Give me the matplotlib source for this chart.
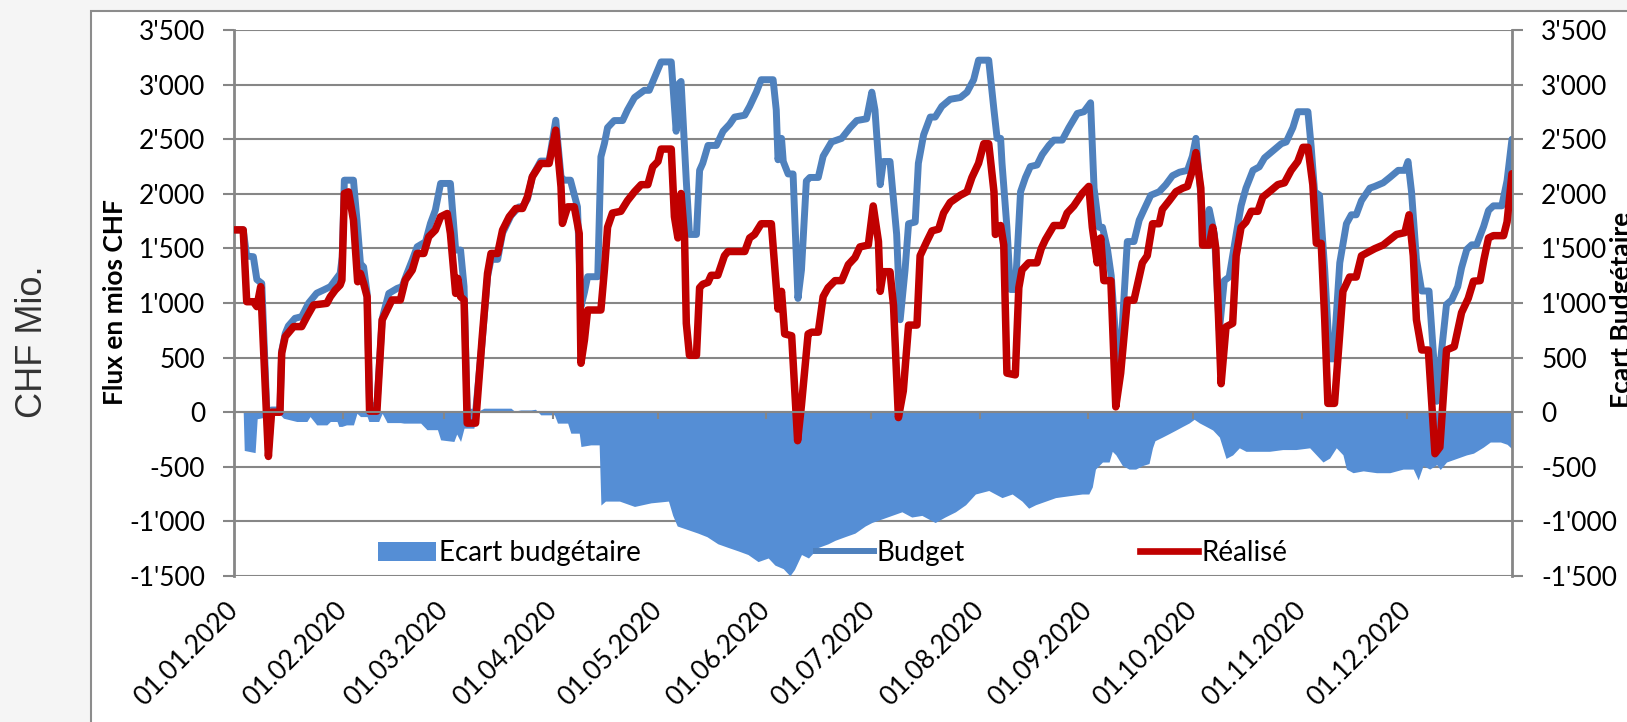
import numpy as np
import pandas as pd
import matplotlib
matplotlib.use("Agg")
import matplotlib.pyplot as plt
import matplotlib.dates as mdates
from matplotlib.patches import Patch, Rectangle
from matplotlib.lines import Line2D
from matplotlib.ticker import FuncFormatter

# values: day offset from 01.01.2020 and value in mios CHF
budget_day = [0, 2.5, 3.5, 5.4, 6.4, 7.8, 9.7, 10.6, 13, 13.5, 14.5, 15.4, 17.3, 19.2, 21.2, 23.5,
              25.5, 27.4, 28.8, 30.2, 30.8, 31.4, 34, 35, 36, 36.9, 37.9, 38.6, 40.7, 42.2, 42.6,
              44.1, 46.5, 47.9, 49.3, 50.8, 52.2, 54.6, 56, 57.4, 58.9, 61.7, 63.2, 64.6, 65.6,
              66.5, 68.9, 70.8, 72.3, 73.3, 75.2, 76.6, 79, 81.3, 82.3, 83.7, 85.1, 87.5, 89.9,
              91.8, 93.3, 94.2, 96, 98, 99, 100, 100.9, 103.8, 104.7, 105.7, 106.6, 108.5, 110.9,
              112.3, 114.3, 117.1, 118.5, 120, 121.9, 124.8, 126.2, 127.1, 127.6, 129.1, 130, 132,
              132.9, 133.8, 135.3, 137.7, 139.6, 141.5, 142.9, 145.8, 147.2, 149.1, 150.5, 153.9,
              154.8, 155.3, 156.3, 156.8, 158.2, 159.6, 161, 162, 163.4, 164.4, 166.8, 168.2,
              170.6, 173.5, 175.9, 177.8, 180.6, 182.1, 183, 184.5, 185.4, 187.3, 189.2, 190.2,
              191.6, 192.6, 194.5, 195.4, 196.9, 198.8, 200.2, 202.1, 204.5, 207.4, 209.3, 211.2,
              212.6, 215.5, 217, 217.9, 218.9, 219.3, 220.7, 221.7, 223.1, 224.6, 226, 227.4,
              229.3, 230.8, 232.7, 234.1, 236.5, 238.4, 240.8, 242.7, 244.6, 245.6, 247, 248,
              249.4, 250.5, 252.3, 253.5, 255.1, 257, 258.5, 259.9, 261.8, 264.2, 266.1, 268, 270,
              272.3, 273.7, 274.7, 276.1, 277.1, 278.5, 280, 281.4, 282.8, 284.2, 286.2, 287.6,
              289, 291, 292.8, 294.3, 296.7, 299.1, 300.5, 302.4, 303.8, 306.7, 307.6, 308.6, 310,
              311.5, 312.9, 314, 315.8, 317.7, 319.1, 320.5, 322, 324.4, 325.8, 328.2, 330.1,
              332.5, 334.4, 335.3, 336.3, 337.7, 339.2, 341.3, 343.5, 344.9, 346.3, 347.8, 349.5,
              350.6, 352.1, 353.5, 354.9, 356.9, 358.3, 359.7, 362.1, 363.6, 365]
budget_val = [1670, 1670, 1430, 1424, 1215, 1180, -350, 20, 20, 560, 720, 790, 860, 875, 1000, 1090,
              1120, 1150, 1210, 1270, 1420, 2125, 2125, 1760, 1360, 1330, 1090, 60, 60, 850, 906,
              1088, 1134, 1150, 1271, 1393, 1515, 1561, 1729, 1851, 2095, 2095, 1485, 1485, 1150,
              0, 0, 660, 1240, 1400, 1400, 1640, 1800, 1880, 1880, 1950, 2160, 2300, 2300,
              2674, 2156, 2125, 2125, 1881, 967, 1100, 1241, 1241, 2339, 2461, 2606, 2671, 2671,
              2768, 2882, 2948, 2948, 3062, 3208, 3208, 2573, 3013, 3029, 2117, 1628, 1628,
              2215, 2280, 2443, 2443, 2573, 2638, 2703, 2720, 2801, 2931, 3045, 3045,
              2768, 2312, 2508, 2296, 2182, 2182, 1042, 1303, 2117, 2150, 2150, 2345,
              2475, 2508, 2606, 2671, 2687, 2931, 2768, 2084, 2296, 2296, 1628, 847,
              1303, 1726, 1742, 2280, 2540, 2703, 2703, 2801, 2866, 2882, 2931, 3045,
              3224, 3224, 2768, 2508, 2508, 2280, 1694, 1124, 1124, 2019, 2150, 2250,
              2264, 2360, 2443, 2492, 2492, 2606, 2736, 2752, 2834, 2052, 1694, 1694,
              1498, 1250, 440, 700, 1563, 1563, 1759, 1857, 1987, 2019, 2084, 2166, 2198,
              2215, 2345, 2508, 1987, 1531, 1857, 1628, 749, 1205, 1238, 1628, 1889,
              2052, 2215, 2247, 2329, 2394, 2459, 2475, 2606, 2752, 2752, 2443, 2019, 1987,
              1303, 489, 489, 1368, 1726, 1808, 1808, 1938, 2052, 2068, 2101, 2150,
              2215, 2215, 2296, 2019, 1400, 1110, 1110, 100, 567, 987, 1029, 1150,
              1323, 1491, 1533, 1533, 1701, 1848, 1890, 1890, 2121, 2500]

realise_day = [0, 2.5, 3.5, 5.4, 6.4, 7.5, 9.7, 10.6, 13, 13.5, 14.5, 16.9, 19.2, 20.7, 22.6, 26.4,
               27.4, 28.8, 30.2, 30.7, 31.4, 32.6, 34, 35.2, 36, 36.9, 37.9, 38.6, 40.7, 42.2, 43.6,
               45, 47.4, 48.8, 50.8, 52.2, 54.1, 55.5, 57.4, 58.9, 60.8, 61.7, 63.2, 63.8, 64.6,
               65.6, 66.5, 68.9, 70.8, 72.3, 73.3, 75.2, 76.6, 78.5, 80.4, 82.3, 83.7, 85.1, 87.5,
               89.9, 91.8, 93.3, 93.7, 95.2, 97.1, 98.5, 99, 100, 100.9, 104.7, 105.7, 106.6, 108,
               110.4, 112.3, 114.3, 116.2, 118.1, 119.5, 121, 121.9, 124.8, 125.7, 126.7, 127.6,
               128.6, 129.1, 130, 132, 132.9, 133.8, 135.3, 136.2, 138.1, 140, 141, 145.8, 147.2,
               148.6, 150.5, 153.4, 155.3, 156.3, 157.2, 159.2, 160.9, 162, 163.9, 164.9, 166.8,
               168.2, 169.6, 171.6, 173.5, 175.4, 177.3, 178.7, 181.1, 182.5, 184, 184.5, 185.4,
               187.3, 188.3, 189.7, 191.1, 192.6, 195, 195.9, 197.8, 199.3, 201.2, 202.6, 204.5,
               207.4, 209.3, 210.7, 212.6, 214.1, 215.5, 217, 217.4, 218.9, 219.8, 220.7, 223.1,
               224.1, 225, 226.9, 229.3, 230.5, 231.7, 234.1, 236.5, 237.9, 239.8, 242.2, 244.1,
               245.1, 246.5, 247.5, 248.4, 250.4, 251.8, 253.2, 255.1, 257, 258.5, 259.4, 260.8,
               262.3, 264.2, 265.1, 267.1, 269, 270.9, 272.3, 273.7, 274.7, 276.1, 276.6, 278.5,
               279.5, 280.4, 281.9, 283.3, 285.2, 286.2, 287.6, 289, 290.5, 292.4, 293.8, 295.7,
               298.1, 300, 301.9, 303.8, 305.3, 306.7, 308.1, 309.1, 310.5, 311.5, 312.4, 314.3,
               315.8, 316.7, 318.6, 320.5, 322, 323.9, 325.8, 328.2, 330.1, 332, 334.4, 335.6,
               336.8, 337.7, 339.2, 341.1, 343, 344.4, 346.3, 348.5, 350.6, 352.5, 354, 355.9,
               357, 358.3, 359.7, 362.6, 363.6, 365]
realise_val = [1670, 1670, 1012, 1012, 967, 1150, -405, 0, 0, 540, 692, 784, 784, 875, 982, 997,
               1058, 1119, 1165, 1210, 2003, 2018, 1759, 1195, 1271, 1180, 1058, 10, 10, 845, 936,
               1028, 1028, 1210, 1302, 1454, 1454, 1607, 1668, 1790, 1820, 1637, 1088, 1226, 1058,
               1028, -100, -100, 692, 1271, 1454, 1454, 1668, 1790, 1866, 1866, 1973, 2156, 2278,
               2278, 2583, 2064, 1729, 1881, 1881, 1637, 448, 662, 936, 936, 1303, 1694, 1824,
               1840, 1938, 2019, 2084, 2084, 2247, 2296, 2410, 2410, 1791, 1596, 2003,
               1596, 814, 521, 521, 1140, 1172, 1189, 1254, 1254, 1433, 1472, 1472, 1596,
               1628, 1726, 1726, 945, 1107, 717, 700, -261, 65, 717, 733, 733,
               1059, 1140, 1205, 1205, 1352, 1417, 1514, 1531, 1889, 1563, 1107, 1287,
               1287, 977, -49, 195, 798, 798, 1433, 1563, 1661, 1677, 1824, 1922,
               1987, 2019, 2150, 2280, 2459, 2459, 2019, 1628, 1710, 1531, 358, 342,
               1140, 1303, 1368, 1368, 1498, 1580, 1710, 1710, 1824, 1889, 2003, 2068,
               1694, 1368, 1596, 1205, 1205, 49, 358, 1026, 1026, 1238, 1368, 1433,
               1726, 1726, 1857, 1938, 2019, 2052, 2068, 2215, 2378, 2052, 1531, 1531,
               1694, 1498, 261, 782, 814, 1433, 1694, 1742, 1840, 1840, 1970, 2019,
               2084, 2101, 2215, 2296, 2426, 2426, 2084, 1547, 1547, 847, 81, 81,
               717, 1107, 1238, 1238, 1433, 1466, 1498, 1531, 1580, 1628, 1645, 1808,
               1433, 847, 570, 570, -380, -320, 570, 600, 912, 1042, 1200, 1205,
               1400, 1596, 1617, 1617, 1743, 2184]

ecart_day = [0, 2.5, 2.8, 5.9, 6.5, 8, 8.3, 13, 14, 17.8, 20.7, 21.6, 23.5, 26.4, 27.4, 29.3, 29.8,
             30.7, 32, 34, 35, 36, 37.9, 38.4, 41.2, 42.2, 43.6, 47.4, 48.4, 53.2, 55, 58, 58.9,
             62.7, 63.5, 64.6, 65.6, 68.4, 69.4, 71.3, 79, 80, 81.8, 84.7, 86, 87.5, 91.4, 92.3,
             95.2, 96.1, 98.5, 99, 101.8, 104.2, 104.7, 106, 110, 114.3, 119, 124, 125.2, 126.5,
             129.5, 132.4, 135, 138.1, 141, 143.9, 146.7, 149.6, 152.5, 154.4, 156.8, 158.7, 160,
             162, 164, 166.8, 169.6, 171.6, 174.4, 177.3, 180.2, 182.1, 185, 187.8, 190.7, 193.5,
             196.4, 200.2, 203, 206, 208.9, 211.7, 215.5, 219.3, 222.2, 225, 226.9, 228.9, 231.7,
             234.6, 238.4, 242.2, 244.1, 245.1, 246, 248, 249.9, 250.8, 251.8, 253.7, 255.6,
             257.5, 259.4, 261.3, 262.3, 263, 265.1, 267.1, 269, 270.9, 272.8, 274.2, 275.7,
             277.6, 279.5, 281.4, 283.3, 285.2, 287.1, 289, 291.9, 295.7, 299.5, 303.3, 307.2,
             309.1, 311, 312.9, 314.8, 316.7, 317.7, 319.6, 322.5, 326.3, 330.1, 333.9, 336.8,
             338.2, 339.6, 341.5, 343.5, 344.5, 346.3, 349.2, 352, 354, 356.8, 358.8, 361.7,
             363.6, 365]
ecart_val = [0, 0, -350, -370, -60, -50, -20, -20, -55, -85, -85, -40, -116, -116, -85, -85, -130,
             -130, -116, -116, -10, -40, -40, -85, -85, -10, -95, -95, -100, -100, -160, -160, -253,
             -268, -200, -268, -146, -146, 6, 37, 37, 10, 21, 21, 27, -24, -24, -100,
             -100, -192, -192, -314, -299, -299, -850, -814, -814, -863, -830, -814, -944, -1042,
             -1075, -1107, -1140, -1205, -1238, -1270, -1303, -1368, -1335, -1400, -1433, -1498, -1440,
             -1303, -1335, -1238, -1205, -1173, -1140, -1107, -1042, -1010, -977, -945, -912, -960,
             -945, -1010, -960, -912, -847, -749, -717, -782, -749, -814, -879, -847, -815,
             -782, -765, -749, -749, -684, -521, -456, -456, -358, -390, -489, -521,
             -521, -489, -470, -326, -261, -228, -195, -163, -130, -98, -65, -98,
             -130, -163, -228, -423, -391, -326, -358, -358, -358, -342, -342, -326,
             -391, -456, -420, -326, -390, -521, -554, -537, -554, -554, -521, -521,
             -619, -489, -521, -480, -525, -456, -423, -391, -375, -320, -273, -273,
             -294, -336]

month_ticks = pd.date_range("2020-01-01", "2020-12-01", freq="MS")
y_ticks = list(range(-1500, 3501, 500))
legend_labels = ["Ecart budgétaire", "Budget", "Réalisé"]

C_AREA = "#558ED5"
C_BUDGET = "#4F81BD"
C_REAL = "#C00000"
C_GRID = "#868686"

plt.rcParams["font.family"] = ["Lato", "DejaVu Sans"]


def to_dates(days):
    return pd.Timestamp("2020-01-01") + pd.to_timedelta(np.asarray(days, dtype=float), unit="D")


fig = plt.figure(figsize=(16.27, 7.22), dpi=100)
fig.patch.set_facecolor("#f5f5f5")
# white chart box with grey border
fig.add_artist(Rectangle((91 / 1627, -0.05), 1.0, 1.035, transform=fig.transFigure,
                         facecolor="white", edgecolor="#8c8c8c", lw=1.5, zorder=-1))

ax = fig.add_axes([0.1441, 0.2022, 0.7852, 0.7562])
ax.set_facecolor("white")

ax.fill_between(to_dates(ecart_day), ecart_val, 0, color=C_AREA, lw=0, zorder=1)
ax.plot(to_dates(budget_day), budget_val, color=C_BUDGET, lw=5.0,
        solid_joinstyle="round", solid_capstyle="round", zorder=2)
ax.plot(to_dates(realise_day), realise_val, color=C_REAL, lw=5.4,
        solid_joinstyle="round", solid_capstyle="round", zorder=3)

ax.set_ylim(-1500, 3500)
ax.set_yticks(y_ticks)
ax.yaxis.set_major_formatter(FuncFormatter(lambda v, p: f"{int(v):,}".replace(",", "'")))
ax.tick_params(axis="y", left=True, right=True, labelleft=True, labelright=True,
               length=8, width=1.5, color=C_GRID, pad=13, labelsize=19)
ax.grid(axis="y", color=C_GRID, lw=1.5)
ax.set_axisbelow(True)

ax.set_xlim(to_dates([0])[0], to_dates([365])[0])
ax.set_xticks(month_ticks)
ax.xaxis.set_major_formatter(mdates.DateFormatter("%d.%m.%Y"))
ax.tick_params(axis="x", length=0, pad=22, labelsize=19)
for lab in ax.get_xticklabels():
    lab.set_rotation(45)
    lab.set_ha("right")
    lab.set_va("center")
    lab.set_rotation_mode("anchor")

for s in ("top", "bottom"):
    ax.spines[s].set_visible(False)
for s in ("left", "right"):
    ax.spines[s].set_color(C_GRID)
    ax.spines[s].set_linewidth(2)

# date axis line crossing at 0 with month tick marks
zero_axis = ax.secondary_xaxis(1500 / 5000)
zero_axis.set_xticks(mdates.date2num(month_ticks))
zero_axis.tick_params(length=5, width=1.5, color=C_GRID, labelbottom=False, labeltop=False)
for s in zero_axis.spines.values():
    s.set_color(C_GRID)
    s.set_linewidth(1.5)
zero_axis.set_zorder(4)

handles = [Patch(facecolor=C_AREA, edgecolor="none"),
           Line2D([], [], color=C_BUDGET, lw=4.3),
           Line2D([], [], color=C_REAL, lw=4.8)]
ax.legend(handles, legend_labels, loc="center", bbox_to_anchor=(0.468, 0.042), ncol=3,
          frameon=False, fontsize=20, columnspacing=6.3, handlelength=2.1, handletextpad=0.1)

fig.text(115 / 1627, 1 - 302 / 722, "Flux en mios CHF", rotation=90, ha="center", va="center",
         fontsize=19, fontweight="bold")
fig.text(0.997, 1 - 310 / 722, "Ecart Budgétaire", rotation=90, ha="center", va="center",
         fontsize=19, fontweight="bold")
fig.text(0.020, 0.526, "CHF Mio.", rotation=90, ha="center", va="center", fontsize=26,
         color="#333333", family=["Liberation Sans", "DejaVu Sans"])

fig.savefig("out.png", dpi=100, facecolor=fig.get_facecolor())
